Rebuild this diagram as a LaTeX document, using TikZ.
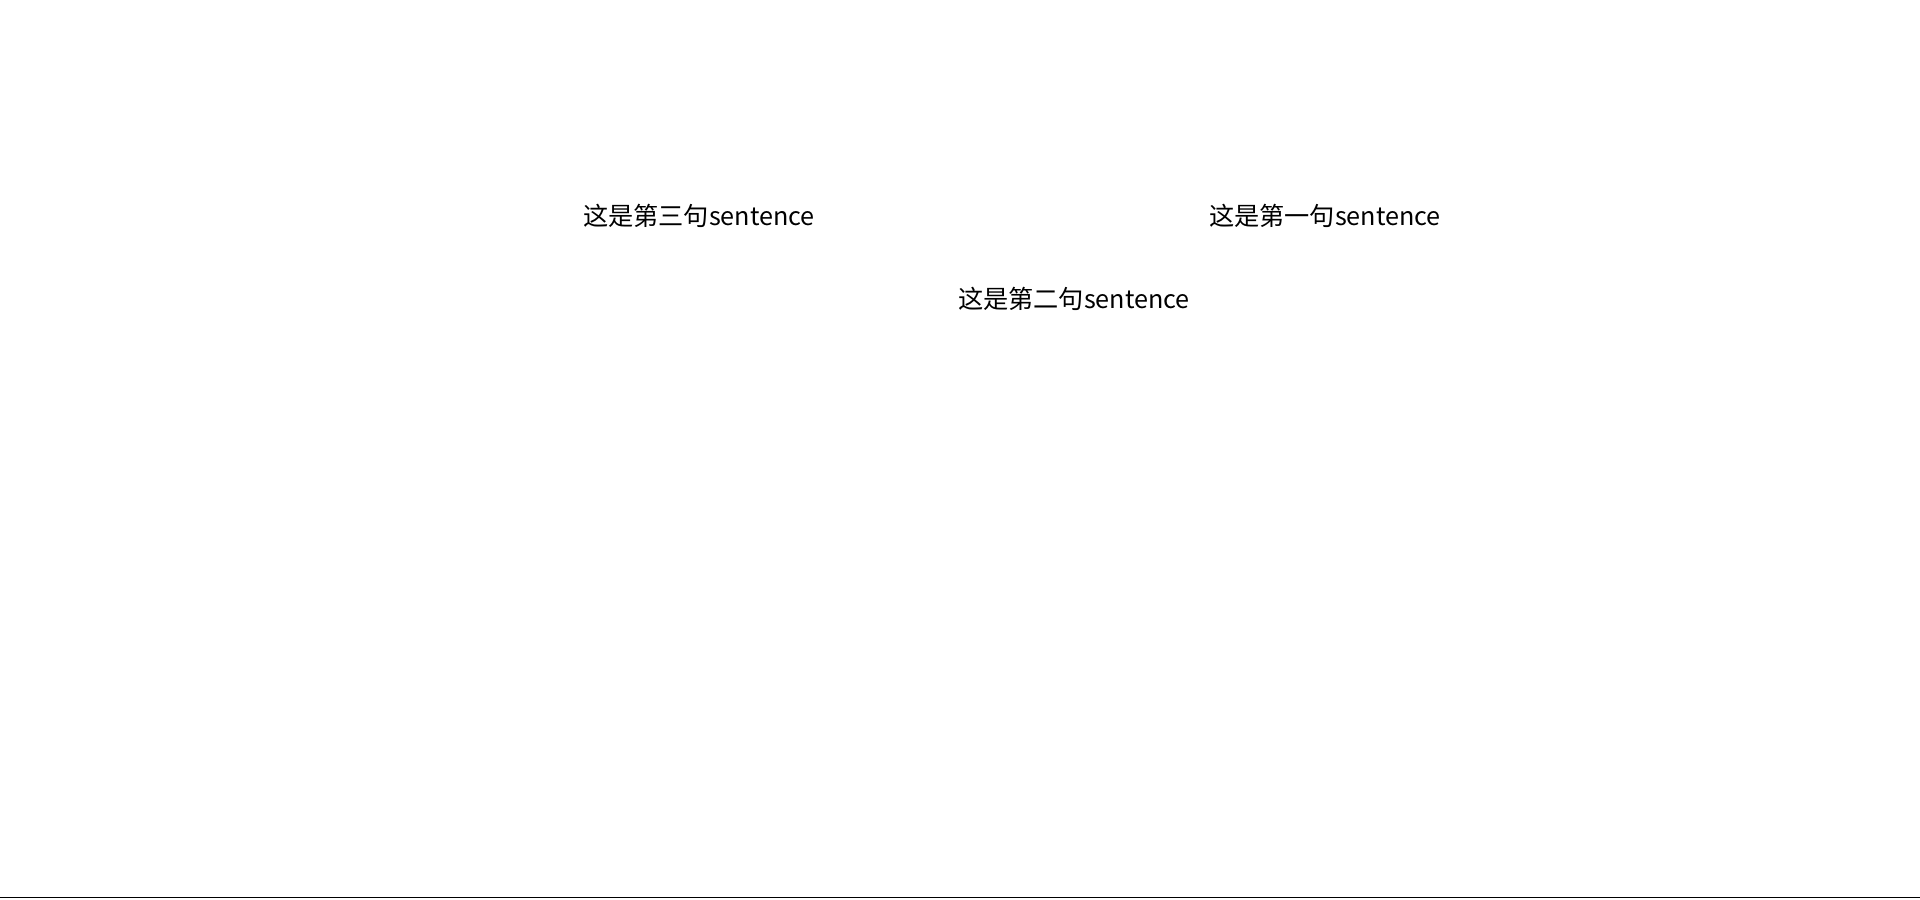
\documentclass[tikz,border=0pt]{standalone}
\usepackage{fontspec}
\setmainfont{Noto Sans}
\newfontfamily\cjk{Noto Sans CJK SC}
\usetikzlibrary{positioning}

\begin{document}
\begin{tikzpicture}[x=0.5pt,y=-0.5pt,
	sent/.style={inner sep=0pt,font=\cjk\fontsize{12.6pt}{14pt}\selectfont}]
		\useasboundingbox (0,0) rectangle (1920,899);
		\node (s1) at (1325,216) [sent]{这是第一句sentence};
		\node (s2) at (1074,299) [sent]{这是第二句sentence};
		\node (s3) at (699,216) [sent]{这是第三句sentence};
		\draw[line width=0.8pt](0,897.5)--(1920,897.5);
	\end{tikzpicture}
\end{document}
